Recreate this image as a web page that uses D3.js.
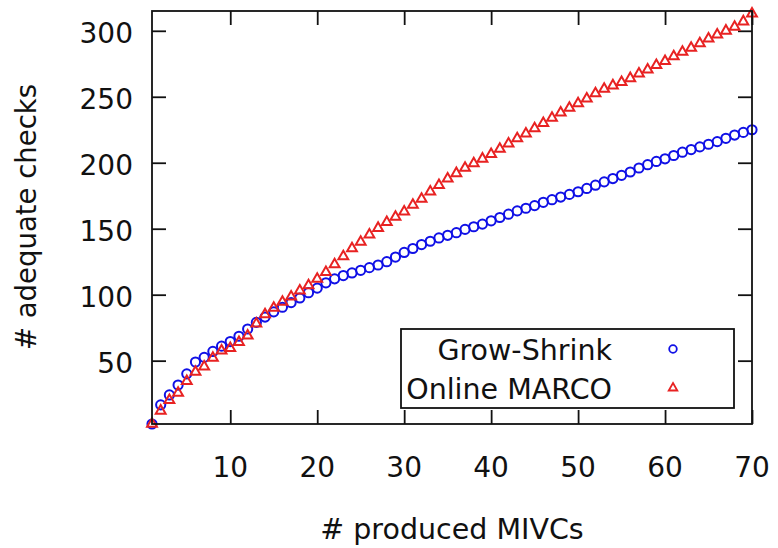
<!DOCTYPE html>
<html lang="en">
<head>
    <meta charset="UTF-8">
    <title>adequate checks</title>
    <script src="https://cdn.jsdelivr.net/npm/d3@7"></script>
    <style>
        body { margin: 0; background: #fff; }
        text { font-family: "DejaVu Sans", Verdana, sans-serif; fill: #111; }
    </style>
</head>
<body>
    <svg id="mysvg" width="778" height="548"></svg>
    <script>
        // number of produced MIVCs is just 1..70
        var produced = [];
        for (var i = 1; i <= 70; i++) produced.push(i);

        var growShrink = [
            2, 16.5, 24, 31.5, 40, 49, 52.5, 57, 61, 64.5,
            68.5, 74, 79, 83, 87, 90.5, 94, 97.5, 101.5, 105,
            109, 112, 114.5, 116.5, 118.5, 120.5, 122.5, 125, 128.5, 132,
            135, 138, 140.5, 143, 145, 147, 149.5, 151.5, 153.5, 156,
            158.5, 161, 163.5, 165.5, 167.5, 170, 172, 174, 176, 178,
            180.5, 183, 185.5, 188, 190.5, 193, 196, 198.5, 201, 203,
            205.5, 208, 210, 212, 214, 216, 218.5, 221, 223, 225
        ];
        var onlineMarco = [
            2, 12, 20, 25.5, 34.5, 41.5, 45.5, 52, 57.5, 59.5,
            64, 69, 78, 85, 90, 94.5, 98.5, 103, 107, 112,
            117, 123, 129, 135, 140, 145.5, 150.5, 155, 159, 163,
            168, 172.5, 178, 183, 188, 192, 196, 199.5, 203, 206.5,
            210.5, 214.5, 218.5, 222, 226, 230, 234, 238, 241.5, 245,
            248.5, 252.5, 256, 258.5, 261, 264, 267.5, 270.5, 274, 277,
            280.5, 284, 287, 290.5, 294, 297, 300, 303, 307, 313
        ];
        var xTicks = [10, 20, 30, 40, 50, 60, 70];
        var yTicks = [50, 100, 150, 200, 250, 300];
        var seriesNames = ["Grow-Shrink", "Online MARCO"];

        var blue = "#1010e6";
        var red = "#e82222";

        // note: "top" is taken by window.top, so plot edges get their own names
        var pLeft = 152, pRight = 752, pTop = 11, pBottom = 424;
        var svg = d3.select("#mysvg");

        var x = d3.scaleLinear().domain([1, 70]).range([pLeft, pRight]);
        var y = d3.scaleLinear().domain([2, 315]).range([pBottom, pTop]);

        // ticks go inward and are mirrored on top / right
        var tickLen = 14;
        function noDomain(g) { g.select(".domain").remove(); }
        svg.append("g")
            .attr("transform", "translate(0," + pBottom + ")")
            .call(d3.axisBottom(x).tickValues(xTicks).tickSize(-tickLen).tickFormat(""))
            .call(noDomain);
        svg.append("g")
            .attr("transform", "translate(0," + pTop + ")")
            .call(d3.axisTop(x).tickValues(xTicks).tickSize(-tickLen).tickFormat(""))
            .call(noDomain);
        svg.append("g")
            .attr("transform", "translate(" + pLeft + ",0)")
            .call(d3.axisLeft(y).tickValues(yTicks).tickSize(-tickLen).tickFormat(""))
            .call(noDomain);
        svg.append("g")
            .attr("transform", "translate(" + pRight + ",0)")
            .call(d3.axisRight(y).tickValues(yTicks).tickSize(-tickLen).tickFormat(""))
            .call(noDomain);
        svg.selectAll(".tick line").attr("stroke", "#111").attr("stroke-width", 1.8);

        // tick labels
        svg.selectAll(".xlab").data(xTicks).enter().append("text")
            .attr("x", function (d) { return x(d); })
            .attr("y", pBottom + 53)
            .attr("text-anchor", "middle")
            .attr("font-size", 28)
            .text(function (d) { return d; });
        svg.selectAll(".ylab").data(yTicks).enter().append("text")
            .attr("x", pLeft - 19)
            .attr("y", function (d) { return y(d) + 12; })
            .attr("text-anchor", "end")
            .attr("font-size", 28)
            .text(function (d) { return d; });

        svg.append("text")
            .attr("x", 452).attr("y", 539)
            .attr("text-anchor", "middle")
            .attr("font-size", 28.5)
            .text("# produced MIVCs");
        svg.append("text")
            .attr("transform", "translate(36,217) rotate(-90)")
            .attr("text-anchor", "middle")
            .attr("font-size", 27.5)
            .text("# adequate checks");

        var tri = d3.symbol().type(d3.symbolTriangle).size(42);

        // points
        svg.append("g").selectAll("circle").data(growShrink).enter().append("circle")
            .attr("cx", function (d, i) { return x(produced[i]); })
            .attr("cy", function (d) { return y(d); })
            .attr("r", 4.6)
            .attr("fill", "none")
            .attr("stroke", blue)
            .attr("stroke-width", 2);
        svg.append("g").selectAll("path").data(onlineMarco).enter().append("path")
            .attr("d", tri)
            .attr("transform", function (d, i) { return "translate(" + x(produced[i]) + "," + y(d) + ")"; })
            .attr("fill", "none")
            .attr("stroke", red)
            .attr("stroke-width", 2);

        // legend
        svg.append("rect")
            .attr("x", 401).attr("y", 329)
            .attr("width", 333).attr("height", 79)
            .attr("fill", "#fff")
            .attr("stroke", "#111")
            .attr("stroke-width", 1.8);
        svg.selectAll(".leg").data(seriesNames).enter().append("text")
            .attr("x", 612)
            .attr("y", function (d, i) { return 360 + i * 39; })
            .attr("text-anchor", "end")
            .attr("font-size", 28.5)
            .text(function (d) { return d; });
        svg.append("circle")
            .attr("cx", 673).attr("cy", 349).attr("r", 3.8)
            .attr("fill", "none").attr("stroke", blue).attr("stroke-width", 1.8);
        svg.append("path")
            .attr("d", d3.symbol().type(d3.symbolTriangle).size(32))
            .attr("transform", "translate(673,388)")
            .attr("fill", "none").attr("stroke", red).attr("stroke-width", 1.8);

        // frame on top of everything
        svg.append("rect")
            .attr("x", pLeft).attr("y", pTop)
            .attr("width", pRight - pLeft).attr("height", pBottom - pTop)
            .attr("fill", "none")
            .attr("stroke", "#111")
            .attr("stroke-width", 1.8);
    </script>
</body>
</html>
